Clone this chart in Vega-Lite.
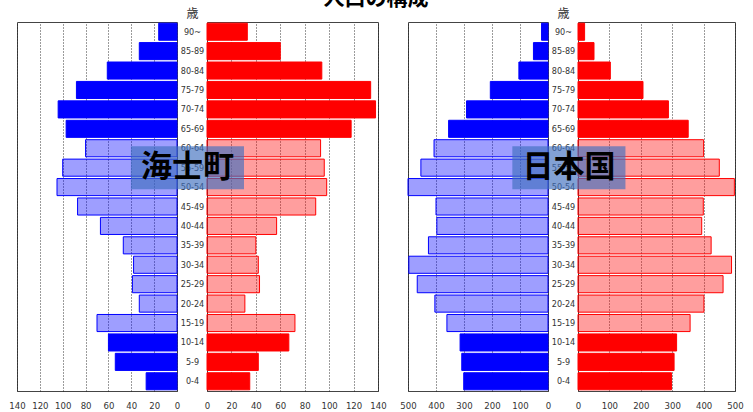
{
  "$schema": "https://vega.github.io/schema/vega-lite/v6.json",
  "background": "white",
  "padding": {"left": 8, "top": -13, "right": 5, "bottom": 0},
  "title": {"text": "人口の構成", "font": "Noto Sans CJK JP", "fontSize": 21, "fontWeight": "bold", "color": "#000", "anchor": "middle", "baseline": "bottom", "offset": -23},
  "datasets": {
    "pop": [
      {"region": "海士町", "sex": "男", "age": "90~", "value": 16},
      {"region": "海士町", "sex": "男", "age": "85-89", "value": 33},
      {"region": "海士町", "sex": "男", "age": "80-84", "value": 61},
      {"region": "海士町", "sex": "男", "age": "75-79", "value": 88},
      {"region": "海士町", "sex": "男", "age": "70-74", "value": 104},
      {"region": "海士町", "sex": "男", "age": "65-69", "value": 97},
      {"region": "海士町", "sex": "男", "age": "60-64", "value": 80},
      {"region": "海士町", "sex": "男", "age": "55-59", "value": 100},
      {"region": "海士町", "sex": "男", "age": "50-54", "value": 105},
      {"region": "海士町", "sex": "男", "age": "45-49", "value": 87},
      {"region": "海士町", "sex": "男", "age": "40-44", "value": 67},
      {"region": "海士町", "sex": "男", "age": "35-39", "value": 47},
      {"region": "海士町", "sex": "男", "age": "30-34", "value": 38},
      {"region": "海士町", "sex": "男", "age": "25-29", "value": 39},
      {"region": "海士町", "sex": "男", "age": "20-24", "value": 33},
      {"region": "海士町", "sex": "男", "age": "15-19", "value": 70},
      {"region": "海士町", "sex": "男", "age": "10-14", "value": 60},
      {"region": "海士町", "sex": "男", "age": "5-9", "value": 54},
      {"region": "海士町", "sex": "男", "age": "0-4", "value": 27},
      {"region": "海士町", "sex": "女", "age": "90~", "value": 33},
      {"region": "海士町", "sex": "女", "age": "85-89", "value": 60},
      {"region": "海士町", "sex": "女", "age": "80-84", "value": 94},
      {"region": "海士町", "sex": "女", "age": "75-79", "value": 134},
      {"region": "海士町", "sex": "女", "age": "70-74", "value": 138},
      {"region": "海士町", "sex": "女", "age": "65-69", "value": 118},
      {"region": "海士町", "sex": "女", "age": "60-64", "value": 93},
      {"region": "海士町", "sex": "女", "age": "55-59", "value": 96},
      {"region": "海士町", "sex": "女", "age": "50-54", "value": 98},
      {"region": "海士町", "sex": "女", "age": "45-49", "value": 89},
      {"region": "海士町", "sex": "女", "age": "40-44", "value": 57},
      {"region": "海士町", "sex": "女", "age": "35-39", "value": 40},
      {"region": "海士町", "sex": "女", "age": "30-34", "value": 42},
      {"region": "海士町", "sex": "女", "age": "25-29", "value": 43},
      {"region": "海士町", "sex": "女", "age": "20-24", "value": 31},
      {"region": "海士町", "sex": "女", "age": "15-19", "value": 72},
      {"region": "海士町", "sex": "女", "age": "10-14", "value": 67},
      {"region": "海士町", "sex": "女", "age": "5-9", "value": 42},
      {"region": "海士町", "sex": "女", "age": "0-4", "value": 35},
      {"region": "日本国", "sex": "男", "age": "90~", "value": 23},
      {"region": "日本国", "sex": "男", "age": "85-89", "value": 52},
      {"region": "日本国", "sex": "男", "age": "80-84", "value": 104},
      {"region": "日本国", "sex": "男", "age": "75-79", "value": 206},
      {"region": "日本国", "sex": "男", "age": "70-74", "value": 291},
      {"region": "日本国", "sex": "男", "age": "65-69", "value": 355},
      {"region": "日本国", "sex": "男", "age": "60-64", "value": 407},
      {"region": "日本国", "sex": "男", "age": "55-59", "value": 454},
      {"region": "日本国", "sex": "男", "age": "50-54", "value": 500},
      {"region": "日本国", "sex": "男", "age": "45-49", "value": 400},
      {"region": "日本国", "sex": "男", "age": "40-44", "value": 397},
      {"region": "日本国", "sex": "男", "age": "35-39", "value": 427},
      {"region": "日本国", "sex": "男", "age": "30-34", "value": 497},
      {"region": "日本国", "sex": "男", "age": "25-29", "value": 467},
      {"region": "日本国", "sex": "男", "age": "20-24", "value": 404},
      {"region": "日本国", "sex": "男", "age": "15-19", "value": 361},
      {"region": "日本国", "sex": "男", "age": "10-14", "value": 314},
      {"region": "日本国", "sex": "男", "age": "5-9", "value": 308},
      {"region": "日本国", "sex": "男", "age": "0-4", "value": 301},
      {"region": "日本国", "sex": "女", "age": "90~", "value": 21},
      {"region": "日本国", "sex": "女", "age": "85-89", "value": 51},
      {"region": "日本国", "sex": "女", "age": "80-84", "value": 103},
      {"region": "日本国", "sex": "女", "age": "75-79", "value": 207},
      {"region": "日本国", "sex": "女", "age": "70-74", "value": 288},
      {"region": "日本国", "sex": "女", "age": "65-69", "value": 351},
      {"region": "日本国", "sex": "女", "age": "60-64", "value": 400},
      {"region": "日本国", "sex": "女", "age": "55-59", "value": 450},
      {"region": "日本国", "sex": "女", "age": "50-54", "value": 498},
      {"region": "日本国", "sex": "女", "age": "45-49", "value": 399},
      {"region": "日本国", "sex": "女", "age": "40-44", "value": 394},
      {"region": "日本国", "sex": "女", "age": "35-39", "value": 424},
      {"region": "日本国", "sex": "女", "age": "30-34", "value": 489},
      {"region": "日本国", "sex": "女", "age": "25-29", "value": 462},
      {"region": "日本国", "sex": "女", "age": "20-24", "value": 401},
      {"region": "日本国", "sex": "女", "age": "15-19", "value": 357},
      {"region": "日本国", "sex": "女", "age": "10-14", "value": 314},
      {"region": "日本国", "sex": "女", "age": "5-9", "value": 306},
      {"region": "日本国", "sex": "女", "age": "0-4", "value": 298}
    ]
  },
  "spacing": 30,
  "bounds": "flush",
  "hconcat": [
    {
      "width": 160,
      "height": 369,
      "data": {"name": "pop"},
      "transform": [{"filter": "datum.region == '海士町' && datum.sex == '男'"}],
      "mark": {"type": "bar", "fill": "#0000ff", "stroke": "#0000ff", "strokeWidth": 1},
      "encoding": {
        "y": {"field": "age", "type": "nominal", "sort": ["90~","85-89","80-84","75-79","70-74","65-69","60-64","55-59","50-54","45-49","40-44","35-39","30-34","25-29","20-24","15-19","10-14","5-9","0-4"], "scale": {"paddingInner": 0.12, "paddingOuter": 0.06}, "axis": null},
        "x": {"field": "value", "type": "quantitative", "scale": {"domain": [0, 140], "reverse": true, "nice": false}, "axis": {"values": [0,20,40,60,80,100,120,140], "title": null, "grid": true, "labelPadding": 9, "labelFlush": false, "labelOverlap": false}},
        "fillOpacity": {"condition": {"test": "indexof(['15-19','20-24','25-29','30-34','35-39','40-44','45-49','50-54','55-59','60-64'], datum.age) >= 0", "value": 0.38}, "value": 1}
      }
    },
    {
      "width": 171,
      "height": 369,
      "layer": [
        {
          "data": {"name": "pop"},
          "transform": [{"filter": "datum.region == '海士町' && datum.sex == '女'"}],
          "mark": {"type": "bar", "fill": "#ff0000", "stroke": "#ff0000", "strokeWidth": 1},
          "encoding": {
            "y": {"field": "age", "type": "nominal", "sort": ["90~","85-89","80-84","75-79","70-74","65-69","60-64","55-59","50-54","45-49","40-44","35-39","30-34","25-29","20-24","15-19","10-14","5-9","0-4"], "scale": {"paddingInner": 0.12, "paddingOuter": 0.06}, "axis": {"orient": "left", "title": "歳", "titleFont": "Noto Sans CJK JP", "titleFontSize": 12, "titleFontWeight": "normal", "titleColor": "#333", "titleAngle": 0, "titleX": -15, "titleY": -9, "titleAlign": "center", "titleBaseline": "middle", "labelAlign": "center", "labelBaseline": "middle", "labelPadding": 15, "labelFontSize": 9, "labelFont": "DejaVu Sans Condensed", "labelOverlap": false, "grid": false}},
            "x": {"field": "value", "type": "quantitative", "scale": {"domain": [0, 140], "nice": false}, "axis": {"values": [0,20,40,60,80,100,120,140], "title": null, "grid": true, "labelPadding": 9, "labelFlush": false, "labelOverlap": false}},
            "fillOpacity": {"condition": {"test": "indexof(['15-19','20-24','25-29','30-34','35-39','40-44','45-49','50-54','55-59','60-64'], datum.age) >= 0", "value": 0.38}, "value": 1}
          }
        },
        {
          "data": {"values": [{"label": "海士町"}]},
          "mark": {"type": "point", "shape": "M-2.63,-1H2.63V1H-2.63Z", "size": 1849, "filled": true, "fill": "#3f6fbf", "opacity": 0.65, "strokeWidth": 0},
          "encoding": {
            "x": {"datum": -16, "type": "quantitative", "axis": {"values": [0,20,40,60,80,100,120,140], "title": null, "grid": true, "labelPadding": 9, "labelFlush": false, "labelOverlap": false}},
            "y": {"datum": "55-59", "type": "nominal"}
          }
        },
        {
          "data": {"values": [{"label": "海士町"}]},
          "mark": {"type": "text", "font": "Noto Sans CJK JP", "fontSize": 31, "fontWeight": "bold", "color": "#000", "align": "center", "baseline": "middle"},
          "encoding": {
            "x": {"datum": -16, "type": "quantitative", "axis": {"values": [0,20,40,60,80,100,120,140], "title": null, "grid": true, "labelPadding": 9, "labelFlush": false, "labelOverlap": false}},
            "y": {"datum": "55-59", "type": "nominal"},
            "text": {"field": "label"}
          }
        }
      ]
    },
    {
      "width": 140,
      "height": 369,
      "data": {"name": "pop"},
      "transform": [{"filter": "datum.region == '日本国' && datum.sex == '男'"}],
      "mark": {"type": "bar", "fill": "#0000ff", "stroke": "#0000ff", "strokeWidth": 1},
      "encoding": {
        "y": {"field": "age", "type": "nominal", "sort": ["90~","85-89","80-84","75-79","70-74","65-69","60-64","55-59","50-54","45-49","40-44","35-39","30-34","25-29","20-24","15-19","10-14","5-9","0-4"], "scale": {"paddingInner": 0.12, "paddingOuter": 0.06}, "axis": null},
        "x": {"field": "value", "type": "quantitative", "scale": {"domain": [0, 500], "reverse": true, "nice": false}, "axis": {"values": [0,100,200,300,400,500], "title": null, "grid": true, "labelPadding": 9, "labelFlush": false, "labelOverlap": false}},
        "fillOpacity": {"condition": {"test": "indexof(['15-19','20-24','25-29','30-34','35-39','40-44','45-49','50-54','55-59','60-64'], datum.age) >= 0", "value": 0.38}, "value": 1}
      }
    },
    {
      "width": 157,
      "height": 369,
      "layer": [
        {
          "data": {"name": "pop"},
          "transform": [{"filter": "datum.region == '日本国' && datum.sex == '女'"}],
          "mark": {"type": "bar", "fill": "#ff0000", "stroke": "#ff0000", "strokeWidth": 1},
          "encoding": {
            "y": {"field": "age", "type": "nominal", "sort": ["90~","85-89","80-84","75-79","70-74","65-69","60-64","55-59","50-54","45-49","40-44","35-39","30-34","25-29","20-24","15-19","10-14","5-9","0-4"], "scale": {"paddingInner": 0.12, "paddingOuter": 0.06}, "axis": {"orient": "left", "title": "歳", "titleFont": "Noto Sans CJK JP", "titleFontSize": 12, "titleFontWeight": "normal", "titleColor": "#333", "titleAngle": 0, "titleX": -15, "titleY": -9, "titleAlign": "center", "titleBaseline": "middle", "labelAlign": "center", "labelBaseline": "middle", "labelPadding": 15, "labelFontSize": 9, "labelFont": "DejaVu Sans Condensed", "labelOverlap": false, "grid": false}},
            "x": {"field": "value", "type": "quantitative", "scale": {"domain": [0, 500], "nice": false}, "axis": {"values": [0,100,200,300,400,500], "title": null, "grid": true, "labelPadding": 9, "labelFlush": false, "labelOverlap": false}},
            "fillOpacity": {"condition": {"test": "indexof(['15-19','20-24','25-29','30-34','35-39','40-44','45-49','50-54','55-59','60-64'], datum.age) >= 0", "value": 0.38}, "value": 1}
          }
        },
        {
          "data": {"values": [{"label": "日本国"}]},
          "mark": {"type": "point", "shape": "M-2.63,-1H2.63V1H-2.63Z", "size": 1849, "filled": true, "fill": "#3f6fbf", "opacity": 0.65, "strokeWidth": 0},
          "encoding": {
            "x": {"datum": -29, "type": "quantitative", "axis": {"values": [0,100,200,300,400,500], "title": null, "grid": true, "labelPadding": 9, "labelFlush": false, "labelOverlap": false}},
            "y": {"datum": "55-59", "type": "nominal"}
          }
        },
        {
          "data": {"values": [{"label": "日本国"}]},
          "mark": {"type": "text", "font": "Noto Sans CJK JP", "fontSize": 31, "fontWeight": "bold", "color": "#000", "align": "center", "baseline": "middle"},
          "encoding": {
            "x": {"datum": -29, "type": "quantitative", "axis": {"values": [0,100,200,300,400,500], "title": null, "grid": true, "labelPadding": 9, "labelFlush": false, "labelOverlap": false}},
            "y": {"datum": "55-59", "type": "nominal"},
            "text": {"field": "label"}
          }
        }
      ]
    }
  ],
  "config": {
    "view": {"stroke": "#444", "strokeWidth": 1},
    "axis": {"labelFont": "DejaVu Sans Condensed", "labelFontSize": 9.5, "labelColor": "#333", "labelOverlap": false, "labelFlush": false, "ticks": false, "domain": false, "gridColor": "#222", "gridDash": [1, 2], "gridOpacity": 0.9}
  }
}
